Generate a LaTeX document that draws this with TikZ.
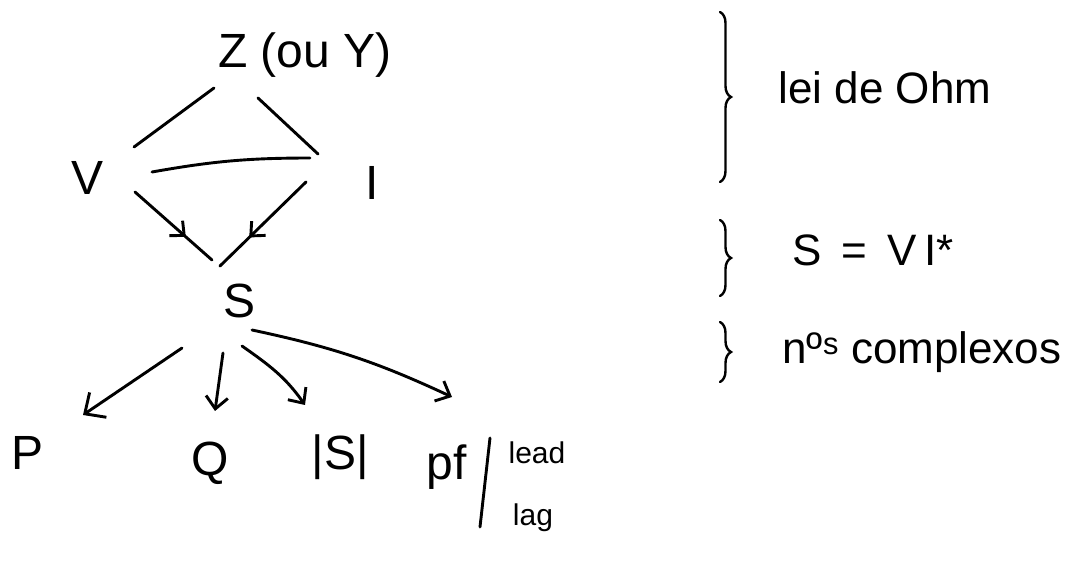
\documentclass[tikz,border=0pt]{standalone}
\usepackage{fontspec}
\setmainfont{Liberation Sans}
\usetikzlibrary{arrows.meta,decorations.pathreplacing,decorations.markings}

\begin{document}
\begin{tikzpicture}[x=1pt,y=1pt,
  every node/.style={inner sep=0pt},
  lblbig/.style={font=\fontsize{48}{56}\selectfont},
  lblnote/.style={font=\fontsize{44}{52}\selectfont},
  lblsmall/.style={font=\fontsize{30}{34}\selectfont},
  stroke/.style={line width=2.9pt, line cap=round, line join=round},
  arrowline/.style={stroke, -{Straight Barb[length=12pt,width=22pt]}},
  midarrow/.style={stroke, postaction={decorate},
    decoration={markings, mark=at position 0.66 with {\arrow{Straight Barb[length=11pt,width=20pt]}}}},
  bracemark/.style={line width=2.4pt, line cap=round, decorate, decoration={brace, amplitude=11pt}}
]
\fill[white] (0,0) rectangle (1088,563);
\useasboundingbox (0,0) rectangle (1088,563);

% quantities
\node[lblbig] (Z) at (305,508) {Z (ou Y)};
\node[lblbig] (V) at (88,385) {V};
\node[lblbig] (I) at (372,380) {I};
\node[lblbig] (S) at (240,262) {S};
\node[lblbig] (P) at (28,110) {P};
\node[lblbig] (Q) at (210,100) {Q};
\node[lblbig] (absS) at (340,106) {|S|};
\node[lblbig] (pf) at (447,96) {pf};
\node[lblsmall] (lead) at (537,110) {lead};
\node[lblsmall] (lag) at (533,45) {lag};
\draw[stroke] ([shift={(33,-60)}]pf.center) -- ([shift={(43,29)}]pf.center);

% relations between them
\draw[stroke] ([shift={(-91,-33)}]Z.center) -- ([shift={(46,31)}]V.center);
\draw[stroke] ([shift={(-47,-43)}]Z.center) -- ([shift={(-54,29)}]I.center);
\draw[stroke] ([shift={(64,6)}]V.center) to[bend left=5] ([shift={(-62,25)}]I.center);
\draw[midarrow] ([shift={(47,-14)}]V.center) -- ([shift={(-28,41)}]S.center);
\draw[midarrow] ([shift={(-66,1)}]I.center) -- ([shift={(-20,35)}]S.center);

\draw[arrowline, -{Straight Barb[length=16pt,width=30pt]}] ([shift={(-58,-47)}]S.center) -- ([shift={(55,38)}]P.center);
\draw[arrowline] ([shift={(-17,-52)}]S.center) -- ([shift={(5,52)}]Q.center);
\draw[arrowline] ([shift={(2,-45)}]S.center) to[out=-35,in=125] ([shift={(-35,52)}]absS.center);
\draw[arrowline] ([shift={(12,-29)}]S.center) to[out=-12,in=155] ([shift={(5,70)}]pf.center);

% side notes
\draw[bracemark] (720,551) -- (720,381);
\node[lblnote] (ohm) at (885,475) {lei de Ohm};
\draw[bracemark] (720,343) -- (720,267);
\node[lblnote] (power) at (873,313) {S\hspace{20pt}=\hspace{20pt}V\hspace{8pt}I*};
\draw[bracemark] (720,241) -- (720,181);
\node[lblnote] (cplx) at (922,211) {nº\textsuperscript{s} complexos};
\end{tikzpicture}
\end{document}
